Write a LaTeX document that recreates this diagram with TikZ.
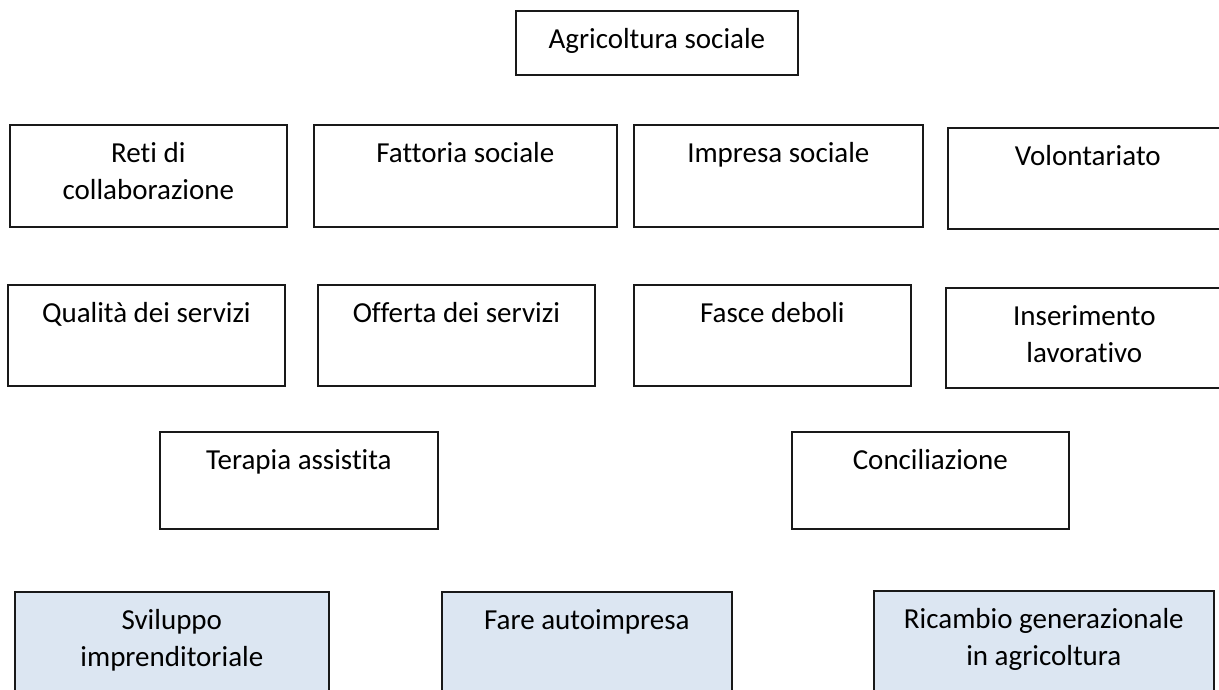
\documentclass[tikz,border=0pt]{standalone}
\usepackage{fontspec}
\setmainfont{Carlito}[Ligatures={NoCommon}]
\usetikzlibrary{positioning}
\definecolor{boxfill}{HTML}{DCE6F2}

\begin{document}
\begin{tikzpicture}[x=1pt,y=-1pt]
\tikzstyle{box}=[rectangle, draw=black!90, line width=1.7pt, inner sep=0pt, anchor=north west]
\tikzstyle{lbl}=[anchor=north, inner sep=0pt, yshift=-18pt, align=center, font=\fontsize{29}{37}\selectfont]
\tikzstyle{lightbox}=[box, fill=boxfill]
\useasboundingbox (0,0) rectangle (1219,689);
% titolo
\node[box, minimum width=282pt, minimum height=64pt, label={[lbl]north:Agricoltura sociale}] (agri) at (515,10) {};
% prima fila
\node[box, minimum width=277pt, minimum height=102pt, label={[lbl]north:Reti di\\collaborazione}] (reti) at (9,124) {};
\node[box, minimum width=303pt, minimum height=102pt, label={[lbl]north:Fattoria sociale}] (fatt) at (313,124) {};
\node[box, minimum width=289pt, minimum height=102pt, label={[lbl]north:Impresa sociale}] (impr) at (633,124) {};
\node[box, minimum width=280pt, minimum height=101pt, label={[lbl]north:Volontariato}] (volo) at (947,127) {};
% seconda fila
\node[box, minimum width=277pt, minimum height=101pt, label={[lbl]north:Qualità dei servizi}] (qual) at (7,284) {};
\node[box, minimum width=277pt, minimum height=101pt, label={[lbl]north:Offerta dei servizi}] (offe) at (317,284) {};
\node[box, minimum width=277pt, minimum height=101pt, label={[lbl]north:Fasce deboli}] (fasc) at (633,284) {};
\node[box, minimum width=277pt, minimum height=100pt, label={[lbl]north:Inserimento\\lavorativo}] (inse) at (945,287) {};
% terza fila
\node[box, minimum width=278pt, minimum height=97pt, label={[lbl]north:Terapia assistita}] (tera) at (159,431) {};
\node[box, minimum width=277pt, minimum height=97pt, label={[lbl]north:Conciliazione}] (conc) at (791,431) {};
% ultima fila
\node[lightbox, minimum width=314pt, minimum height=110pt, label={[lbl]north:Sviluppo\\imprenditoriale}] (svil) at (14,591) {};
\node[lightbox, minimum width=290pt, minimum height=110pt, label={[lbl]north:Fare autoimpresa}] (fare) at (441,591) {};
\node[lightbox, minimum width=340pt, minimum height=110pt, label={[lbl]north:Ricambio generazionale\\in agricoltura}] (rica) at (873,590) {};
\end{tikzpicture}
\end{document}
